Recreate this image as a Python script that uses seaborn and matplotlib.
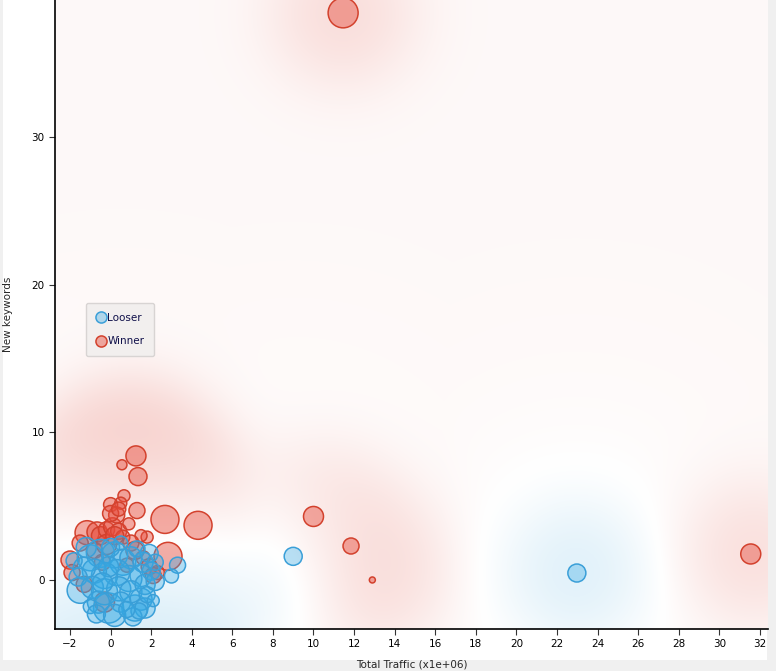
import numpy as np
import pandas as pd
import matplotlib
matplotlib.use("Agg")
import matplotlib.pyplot as plt
import seaborn as sns
from matplotlib.lines import Line2D
from matplotlib.patches import Rectangle

sns.set_style("white")
plt.rcParams['font.family'] = ['DejaVu Sans']

# ---- data (traffic in millions, new keywords, bubble radius in px) ----
winner_x = [11.46, 1.25, 0.56, 1.35, 2.68, 4.31, 1.30, 0.66, 0.50, 0.00, 10.0, 11.85, 12.9, 31.55,
            2.83, -2.0, -1.9, -1.16, -0.67, -0.50, -0.20, 0.10, 0.40, 0.60, 0.30, 0.00, 0.40,
            1.80, 1.50, 2.30, 1.00, -0.80, 1.60, 0.80, -0.30, -1.30, 1.90, 2.10, -1.50, 0.90,
            1.20, -0.20, 0.20, -0.40]
winner_y = [38.4, 8.4, 7.8, 7.0, 4.1, 3.7, 4.7, 5.7, 5.2, 5.1, 4.3, 2.3, 0.0, 1.76,
            1.6, 1.35, 0.5, 3.2, 3.25, 3.0, 3.4, 3.6, 3.3, 2.9, 4.4, 4.5, 4.8,
            2.9, 3.0, 0.5, 2.5, 2.0, 1.5, 1.0, -1.5, -0.3, 0.9, 0.3, 2.5, 3.8,
            2.0, 2.4, 3.0, 1.2]
winner_r = [15, 10, 5, 9, 14, 14, 8, 6, 6, 7, 10, 8, 3, 10,
            14, 9, 8, 12, 10, 9, 8, 9, 8, 7, 8, 8, 7,
            6, 6, 7, 8, 8, 7, 7, 10, 8, 8, 8, 8, 6,
            9, 10, 9, 8]

looser_x = [-1.5, -0.1, 1.2, 1.5, -1.0, -0.5, 0.2, 0.6, 1.0, 1.6, 1.9, 2.0, 1.5, 0.9, 0.3,
            -0.3, -0.8, -1.3, -1.6, -0.9, -0.3, 0.4, 1.0, 1.7, 2.2, -0.6, 0.5, 1.7, -1.0,
            -0.7, 0.2, 1.1, 1.4, 3.3, 3.0, 9.0, 22.98, -1.2, 0.0, 1.3, 2.2, -0.1, 0.5,
            -1.8, 1.8, 2.1, 0.8, -0.4]
looser_y = [-0.7, -1.9, -1.9, -1.3, 1.5, 1.8, 1.7, 1.2, 1.5, 1.2, 1.8, 0.6, 0.3, 0.1, 0.5,
            0.3, 0.6, 0.8, 0.2, -0.5, -0.8, -0.6, -0.8, -0.3, -0.1, -1.5, -1.5, -1.9, -1.8,
            -2.3, -2.4, -2.5, -2.1, 1.0, 0.27, 1.6, 0.47, 2.2, 2.2, 2.1, 1.2, 0.9, 2.5,
            1.3, -1.0, -1.4, -2.0, -0.2]
looser_r = [13, 15, 13, 11, 13, 14, 13, 13, 11, 10, 9, 9, 11, 13, 13,
            13, 12, 11, 9, 11, 13, 12, 11, 10, 9, 11, 10, 10, 7,
            9, 11, 9, 8, 8, 7, 9, 9, 10, 9, 8, 8, 10, 7,
            8, 8, 6, 8, 10]

x_ticks = list(range(-2, 33, 2))
y_ticks = [0, 10, 20, 30]
xlim = (-2.74, 32.4)
ylim = (-3.32, 39.27)

DPI = 100
W, H = 776, 671

win = pd.DataFrame({"x": winner_x, "y": winner_y, "r": winner_r})
los = pd.DataFrame({"x": looser_x, "y": looser_y, "r": looser_r})
for d in (win, los):
    d["s"] = (2 * d["r"] * 72 / DPI) ** 2

fig = plt.figure(figsize=(W / DPI, H / DPI), dpi=DPI, facecolor="#f0f0f0")
fig.patches.append(Rectangle((3 / W, 11 / H), 764 / W, 1 - 11 / H, transform=fig.transFigure,
                             facecolor="white", edgecolor="none", zorder=-10))
ax = fig.add_axes([55 / W, (H - 629) / H, (768 - 55) / W, 629 / H])
ax.set_xlim(*xlim)
ax.set_ylim(*ylim)

# ---- background glow field derived from the points ----
px_x = (768 - 55) / (xlim[1] - xlim[0])
px_y = 629 / (ylim[1] - ylim[0])
gx = np.linspace(xlim[0], xlim[1], 360)
gy = np.linspace(ylim[0], ylim[1], 320)
GX, GY = np.meshgrid(gx, gy)


def d2(df):
    return ((GX[..., None] - df["x"].values) * px_x) ** 2 + ((GY[..., None] - df["y"].values) * px_y) ** 2


dw, dl = d2(win), d2(los)

sig_g = 46.0
R = np.exp(-dw / (2 * sig_g ** 2)).sum(-1)
B = np.exp(-dl / (2 * sig_g ** 2)).sum(-1)
Bw = np.exp(-dl / (2 * 120.0 ** 2)).max(-1)
base = 0.035 * (1 - Bw)
v = base + 0.32 * (R - B) / (R + B + 1.2)
red = np.array([225, 80, 65]) / 255
blue = np.array([60, 165, 220]) / 255
white = np.ones(3)
img = np.where(v[..., None] > 0,
               white + v[..., None] * (red - white),
               white + (-v[..., None]) * (blue - white))
img = np.clip(img, 0, 1)
ax.imshow(img, extent=[xlim[0], xlim[1], ylim[0], ylim[1]], origin="lower",
          aspect="auto", zorder=0, interpolation="bilinear")

smin = min(win["s"].min(), los["s"].min())
smax = max(win["s"].max(), los["s"].max())
red_face = (231 / 255, 76 / 255, 60 / 255, 0.45)
blue_face = (52 / 255, 170 / 255, 230 / 255, 0.35)
sns.scatterplot(data=win, x="x", y="y", size="s", sizes=(smin, smax), size_norm=(smin, smax),
                color=red_face, edgecolor="#d3412d", linewidth=1.1, legend=False, ax=ax, zorder=3)
sns.scatterplot(data=los, x="x", y="y", size="s", sizes=(smin, smax), size_norm=(smin, smax),
                color=blue_face, edgecolor="#3a9fd8", linewidth=1.1, legend=False, ax=ax, zorder=4)

ax.set_xticks(x_ticks)
ax.set_yticks(y_ticks)
ax.tick_params(axis="both", labelsize=7.5, length=4, width=0.8, color="#333333", direction="out",
               bottom=True, left=True, labelcolor="black")
for sp in ("top", "right"):
    ax.spines[sp].set_visible(False)
for sp in ("left", "bottom"):
    ax.spines[sp].set_color("black")
    ax.spines[sp].set_linewidth(1.2)
ax.set_xlabel("Total Traffic (x1e+06)", fontsize=7.5, labelpad=7)
ax.set_ylabel("New keywords", fontsize=7.5, labelpad=13)

handles = [
    Line2D([0], [0], marker="o", linestyle="none", markersize=8, markerfacecolor=blue_face,
           markeredgecolor="#3a9fd8", markeredgewidth=1.1, label="Looser"),
    Line2D([0], [0], marker="o", linestyle="none", markersize=8, markerfacecolor=red_face,
           markeredgecolor="#d3412d", markeredgewidth=1.1, label="Winner"),
]
leg = ax.legend(handles=handles, loc="upper left", bbox_to_anchor=(0.036, 0.527), fontsize=7.5,
                frameon=True, fancybox=True, handletextpad=0.1, borderpad=0.95, labelspacing=1.3,
                handlelength=1.0, labelcolor="#10104a")
leg.get_frame().set_facecolor("#f2efee")
leg.get_frame().set_edgecolor("#d8d4d3")
leg.get_frame().set_alpha(1)

fig.savefig("out.png", dpi=DPI, facecolor=fig.get_facecolor())
